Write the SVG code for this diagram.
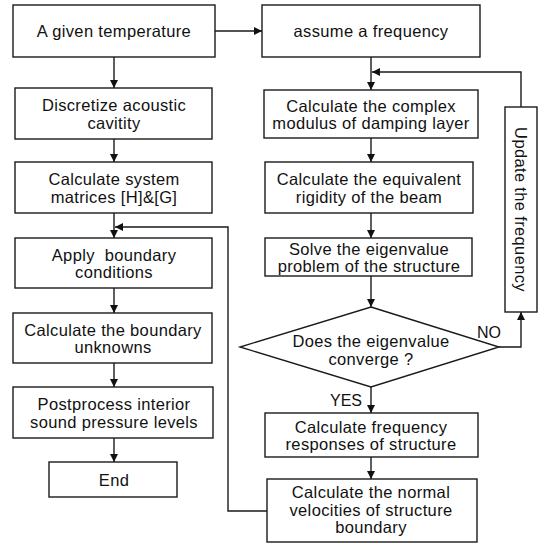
<svg xmlns="http://www.w3.org/2000/svg" width="538" height="544" viewBox="0 0 538 544">
<style>
.box{fill:#fff;stroke:#1a1a1a;stroke-width:1.4}
.t{font-family:"Liberation Sans",Arial,sans-serif;font-size:16.5px;letter-spacing:0.35px;fill:#111;text-anchor:middle}
.lbl{font-family:"Liberation Sans",Arial,sans-serif;font-size:16px;fill:#111}
.ln{fill:none;stroke:#1a1a1a;stroke-width:1.4}
</style>
<defs>
<marker id="ah" viewBox="0 0 10 10" refX="10" refY="5" markerWidth="8" markerHeight="8" markerUnits="userSpaceOnUse" orient="auto">
<path d="M0,0 L10,5 L0,10 Z" fill="#111"/>
</marker>
</defs>
<rect width="538" height="544" fill="#fff"/>
<g id="connectors">
<line class="ln" x1="215" y1="31" x2="262" y2="31" marker-end="url(#ah)"/>
<line class="ln" x1="114" y1="57" x2="114" y2="88" marker-end="url(#ah)"/>
<line class="ln" x1="114" y1="139" x2="114" y2="162" marker-end="url(#ah)"/>
<line class="ln" x1="114" y1="213" x2="114" y2="238" marker-end="url(#ah)"/>
<line class="ln" x1="114" y1="288" x2="114" y2="313" marker-end="url(#ah)"/>
<line class="ln" x1="114" y1="363" x2="114" y2="387" marker-end="url(#ah)"/>
<line class="ln" x1="114" y1="438" x2="114" y2="462" marker-end="url(#ah)"/>
<line class="ln" x1="371" y1="57" x2="371" y2="90" marker-end="url(#ah)"/>
<line class="ln" x1="371" y1="138" x2="371" y2="162" marker-end="url(#ah)"/>
<line class="ln" x1="371" y1="213" x2="371" y2="238" marker-end="url(#ah)"/>
<line class="ln" x1="371" y1="276" x2="371" y2="307" marker-end="url(#ah)"/>
<line class="ln" x1="371" y1="387" x2="371" y2="413" marker-end="url(#ah)"/>
<line class="ln" x1="371" y1="457" x2="371" y2="479" marker-end="url(#ah)"/>
<polyline class="ln" points="521,107 521,72 372,72" marker-end="url(#ah)"/>
<polyline class="ln" points="499,347 521,347 521,312" marker-end="url(#ah)"/>
<polyline class="ln" points="267,511 228,511 228,227 115,227" marker-end="url(#ah)"/>
<text class="lbl" x="489" y="338" text-anchor="middle">NO</text>
<text class="lbl" x="362" y="406" text-anchor="end">YES</text>
</g>
<g id="n1"><rect class="box" x="13" y="5" width="202" height="52"/><text class="t" x="114" y="37">A given temperature</text></g>
<g id="n2"><rect class="box" x="15" y="88" width="197" height="51"/><text class="t" x="114" y="111">Discretize acoustic</text><text class="t" x="114" y="128.5">cavitity</text></g>
<g id="n3"><rect class="box" x="15" y="162" width="197" height="51"/><text class="t" x="114" y="185">Calculate system</text><text class="t" x="114" y="202.5">matrices [H]&amp;[G]</text></g>
<g id="n4"><rect class="box" x="15" y="238" width="197" height="50"/><text class="t" x="114" y="260.5" xml:space="preserve">Apply  boundary</text><text class="t" x="114" y="278">conditions</text></g>
<g id="n5"><rect class="box" x="13" y="313" width="199" height="50"/><text class="t" x="113" y="335.5">Calculate the boundary</text><text class="t" x="113" y="353">unknowns</text></g>
<g id="n6"><rect class="box" x="13" y="387" width="200" height="51"/><text class="t" x="114" y="410">Postprocess interior</text><text class="t" x="114" y="427.5">sound pressure levels</text></g>
<g id="n7"><rect class="box" x="49" y="462" width="128" height="35"/><text class="t" x="114" y="485.5">End</text></g>
<g id="r1"><rect class="box" x="262" y="5" width="218" height="52"/><text class="t" x="371" y="37">assume a frequency</text></g>
<g id="r2"><rect class="box" x="264" y="90" width="214" height="48"/><text class="t" x="371" y="111.5">Calculate the complex</text><text class="t" x="371" y="129">modulus of damping layer</text></g>
<g id="r3"><rect class="box" x="265" y="162" width="208" height="51"/><text class="t" x="369" y="185">Calculate the equivalent</text><text class="t" x="369" y="202.5">rigidity of the beam</text></g>
<g id="r4"><rect class="box" x="265" y="238" width="207" height="38"/><text class="t" x="369" y="254.5">Solve the eigenvalue</text><text class="t" x="369" y="272">problem of the structure</text></g>
<g id="r5"><polygon class="box" points="371,307 499,347 371,387 240,347"/><text class="t" x="371" y="347">Does the eigenvalue</text><text class="t" x="371" y="364.5">converge ?</text></g>
<g id="r6"><rect class="box" x="265" y="413" width="213" height="44"/><text class="t" x="371" y="432.5">Calculate frequency</text><text class="t" x="371" y="450">responses of structure</text></g>
<g id="r7"><rect class="box" x="267" y="479" width="210" height="63"/><text class="t" x="371" y="498">Calculate the normal</text><text class="t" x="371" y="515.5">velocities of structure</text><text class="t" x="371" y="533">boundary</text></g>
<g id="u1"><rect class="box" x="505" y="107" width="32" height="205"/><text class="t" transform="translate(521,209.5) rotate(90)" y="6">Update the frequency</text></g>
</svg>
